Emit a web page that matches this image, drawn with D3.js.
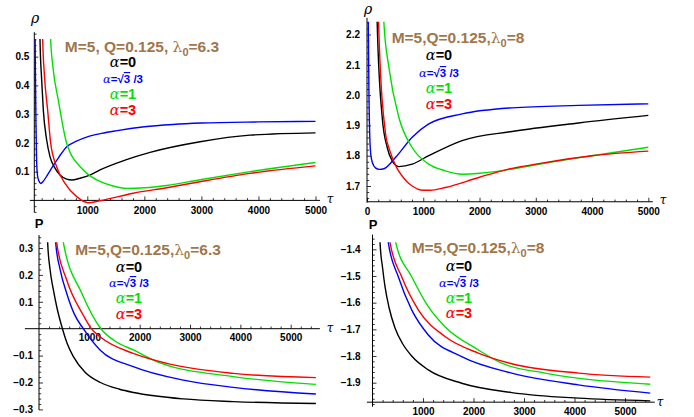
<!DOCTYPE html>
<html>
<head>
<meta charset="utf-8">
<script src="https://cdn.jsdelivr.net/npm/d3@7"></script>
<style>
  body { margin: 0; background: #fff; }
  svg { display: block; font-family: "Liberation Sans", Arial, sans-serif; }
  .tick text { font-weight: bold; font-size: 10px; fill: #000; }
  .tick line { stroke: #000; stroke-width: 0.8; }
</style>
</head>
<body>
<svg id="chart" width="694" height="417"></svg>
<script>
// ---- data: [tau, value] ----
const rho63Black = [[155,0.80],[171,0.56],[200,0.42],[229,0.314],[288,0.21],[346,0.152],[434,0.112],[521,0.088],[638,0.074],[726,0.071],[872,0.077],[1047,0.088],[1223,0.106],[1661,0.14],[2100,0.167],[2977,0.204],[3853,0.227],[5000,0.235]];
const rho63Blue = [[78,0.75],[90,0.45],[100,0.27],[110,0.15],[125,0.09],[150,0.068],[183,0.059],[230,0.067],[300,0.088],[400,0.12],[500,0.15],[640,0.187],[800,0.205],[1000,0.221],[1250,0.233],[1500,0.242],[2000,0.256],[2500,0.264],[3000,0.269],[4000,0.273],[5000,0.275]];
const rho63Green = [[330,0.75],[358,0.56],[400,0.46],[492,0.349],[638,0.199],[930,0.106],[1223,0.066],[1450,0.05],[1690,0.042],[2000,0.044],[2392,0.052],[2975,0.072],[3852,0.1],[5000,0.132]];
const rho63Red = [[195,0.80],[218,0.56],[250,0.43],[305,0.314],[358,0.199],[463,0.117],[609,0.059],[814,0.013],[1018,-0.008],[1223,-0.001],[1806,0.025],[2392,0.044],[2975,0.065],[3852,0.094],[5000,0.12]];

const rho8Black = [[165,2.40],[181,2.24],[270,1.927],[359,1.827],[448,1.783],[566,1.764],[803,1.772],[1098,1.80],[1691,1.85],[2579,1.88],[3762,1.908],[5000,1.933]];
const rho8Blue = [[12,2.5],[22,2.24],[35,2.0],[50,1.86],[70,1.80],[100,1.775],[150,1.76],[220,1.755],[300,1.757],[506,1.794],[803,1.861],[1098,1.905],[1691,1.938],[2579,1.958],[3762,1.966],[5000,1.971]];
const rho8Green = [[280,2.40],[300,2.24],[388,2.093],[566,1.927],[803,1.827],[1098,1.772],[1394,1.75],[1691,1.739],[2000,1.742],[2579,1.756],[3000,1.77],[4000,1.80],[5000,1.828]];
const rho8Red = [[190,2.40],[205,2.24],[330,1.872],[400,1.82],[448,1.794],[530,1.76],[625,1.733],[720,1.712],[803,1.70],[900,1.69],[1000,1.686],[1120,1.686],[1394,1.695],[1986,1.728],[2500,1.755],[3000,1.772],[4000,1.80],[5000,1.815]];

const p63Black = [[160,0.45],[172,0.32],[220,0.22],[285,0.145],[360,0.075],[450,0.01],[560,-0.055],[680,-0.103],[920,-0.163],[1220,-0.2],[1600,-0.225],[1880,-0.237],[2870,-0.261],[3860,-0.271],[5500,-0.278]];
const p63Blue = [[310,0.42],[331,0.321],[420,0.22],[550,0.132],[700,0.055],[880,0],[1212,-0.079],[1873,-0.141],[2867,-0.191],[3860,-0.218],[5500,-0.243]];
const p63Green = [[460,0.42],[483,0.321],[850,0.132],[1230,0],[1500,-0.045],[1873,-0.079],[2404,-0.127],[3860,-0.178],[5500,-0.207]];
const p63Red = [[330,0.42],[351,0.321],[550,0.181],[880,0.05],[1040,0],[1212,-0.030],[1873,-0.092],[2536,-0.129],[3860,-0.166],[5500,-0.182]];

const p8Black = [[135,-1.30],[149,-1.374],[200,-1.47],[248,-1.54],[330,-1.62],[446,-1.695],[600,-1.755],[776,-1.80],[1105,-1.852],[1766,-1.902],[2756,-1.937],[4075,-1.958],[5500,-1.968]];
const p8Blue = [[295,-1.30],[313,-1.374],[511,-1.503],[776,-1.627],[1105,-1.721],[1766,-1.802],[2756,-1.864],[4075,-1.908],[5500,-1.939]];
const p8Green = [[440,-1.30],[459,-1.374],[776,-1.503],[1105,-1.615],[1436,-1.690],[2095,-1.777],[2558,-1.827],[3416,-1.864],[5500,-1.906]];
const p8Red = [[330,-1.30],[347,-1.374],[578,-1.503],[907,-1.627],[1436,-1.727],[2095,-1.789],[2756,-1.829],[4075,-1.864],[5500,-1.879]];

const tauTicks = [1000, 2000, 3000, 4000, 5000];
const tauTicksZero = [0, 1000, 2000, 3000, 4000, 5000];
const rhoTicks63 = [0.1, 0.2, 0.3, 0.4, 0.5];
const rhoTicks8 = [1.7, 1.8, 1.9, 2.0, 2.1, 2.2];
const pTicks63 = [-0.3, -0.2, -0.1, 0.1, 0.2, 0.3];
const pTicks8 = [-1.9, -1.8, -1.7, -1.6, -1.5, -1.4];

const seriesColors = { black: "#000000", blue: "#0000ff", green: "#00e000", red: "#ff0000" };
const titleColor = "#a0764a";

// ---- panel layout ----
const panels = [
  { id: "a", lambda: "6.3", comma: ", ", yName: "ρ", yBold: false,
    xDom: [71, 5000], xRng: [34.3, 315.5], yDom: [0, 0.5], yRng: [200.4, 56.65],
    yAxisAt: 71, xAxisAt: 0, xLine: [-7, 5080], yLine: [-0.042, 0.585], yTop: 0.561, yBot: -0.045,
    xTicks: tauTicks, yTicks: rhoTicks63, minorX: 200, minorY: 0.02, xPad: 7, yPad: 5,
    series: [rho63Blue, rho63Black, rho63Green, rho63Red],
    cx: 142, titleY: 52, rowsY: [67, 83, 99, 115], yLabel: [35, 23], tLabel: [330, 203] },
  { id: "b", lambda: "8", comma: ",", yName: "ρ", yBold: false,
    xDom: [0, 5000], xRng: [367, 648.3], yDom: [1.7, 2.2], yRng: [186, 34.5],
    yAxisAt: 0, xAxisAt: 1.648, xLine: [0, 5080], yLine: [1.645, 2.255], yTop: 2.242, yBot: 1.648,
    xTicks: tauTicksZero, yTicks: rhoTicks8, minorX: 200, minorY: 0.02, xPad: 6, yPad: 7,
    series: [rho8Blue, rho8Black, rho8Green, rho8Red],
    cx: 458, titleY: 43, rowsY: [60, 77, 93, 109], yLabel: [368, 14], tLabel: [663, 204] },
  { id: "c", lambda: "6.3", comma: ",", yName: "P", yBold: true,
    xDom: [0, 5000], xRng: [39, 290.7], yDom: [0, 0.3], yRng: [328.7, 248],
    yAxisAt: 0, xAxisAt: 0, xLine: [-280, 5580], yLine: [-0.302, 0.348], yTop: 0.321, yBot: -0.31,
    xTicks: tauTicks, yTicks: pTicks63, minorX: 200, minorY: 0.02, xPad: 5, yPad: 6,
    series: [p63Black, p63Blue, p63Green, p63Red],
    cx: 148, titleY: 255, rowsY: [272, 287, 303, 319], yLabel: [39, 228], tLabel: [330, 332] },
  { id: "d", lambda: "8", comma: ",", yName: "P", yBold: true,
    xDom: [0, 5000], xRng: [372.5, 625], yDom: [-1.9, -1.4], yRng: [382.7, 249.3],
    yAxisAt: 0, xAxisAt: -1.973, xLine: [-110, 5590], yLine: [-1.99, -1.345], yTop: -1.374, yBot: -1.973,
    xTicks: tauTicks, yTicks: pTicks8, minorX: 200, minorY: 0.02, xPad: 6, yPad: 12,
    series: [p8Black, p8Blue, p8Green, p8Red],
    cx: 478, titleY: 253, rowsY: [271, 287, 303, 318], yLabel: [373, 229], tLabel: [660, 406] }
];

const seriesOrder = { a: ["blue", "black", "green", "red"], b: ["blue", "black", "green", "red"],
                      c: ["black", "blue", "green", "red"], d: ["black", "blue", "green", "red"] };

const svg = d3.select("#chart");
const defs = svg.append("defs");

function drawPanel(p) {
  const x = d3.scaleLinear().domain(p.xDom).range(p.xRng);
  const y = d3.scaleLinear().domain(p.yDom).range(p.yRng);
  const g = svg.append("g");

  defs.append("clipPath").attr("id", "clip-" + p.id)
    .append("rect")
    .attr("x", x(p.yAxisAt))
    .attr("y", y(p.yTop))
    .attr("width", p.xRng[1] + 40 - x(p.yAxisAt))
    .attr("height", y(p.yBot) - y(p.yTop));

  // minor ticks
  const minorX = d3.range(p.minorX, p.xLine[1], p.minorX).filter(v => v > p.yAxisAt + 1 && v % 1000 !== 0);
  g.append("g")
    .attr("transform", `translate(0,${y(p.xAxisAt)})`)
    .call(d3.axisBottom(x).tickValues(minorX).tickSizeInner(-2.2).tickSizeOuter(0).tickFormat(""))
    .call(a => a.select(".domain").remove());

  const yMin = p.yLine[0], yMax = p.yLine[1];
  const minorY = d3.range(Math.ceil(yMin / p.minorY), Math.floor(yMax / p.minorY) + 1)
    .map(k => +(k * p.minorY).toFixed(3))
    .filter(v => !p.yTicks.some(t => Math.abs(t - v) < 1e-6) && Math.abs(v - p.xAxisAt) > 0.005);
  g.append("g")
    .attr("transform", `translate(${x(p.yAxisAt)},0)`)
    .call(d3.axisLeft(y).tickValues(minorY).tickSizeInner(-2.2).tickSizeOuter(0).tickFormat(""))
    .call(a => a.select(".domain").remove());

  // major ticks
  g.append("g")
    .attr("transform", `translate(0,${y(p.xAxisAt)})`)
    .call(d3.axisBottom(x).tickValues(p.xTicks).tickSizeInner(-4).tickSizeOuter(0).tickPadding(p.xPad).tickFormat(d3.format("d")))
    .call(a => a.select(".domain").remove());

  g.append("g")
    .attr("transform", `translate(${x(p.yAxisAt)},0)`)
    .call(d3.axisLeft(y).tickValues(p.yTicks).tickSizeInner(-4).tickSizeOuter(0).tickPadding(p.yPad).tickFormat(d3.format(".1f")))
    .call(a => a.select(".domain").remove());

  // axis lines
  g.append("line")
    .attr("x1", x(p.xLine[0])).attr("x2", x(p.xLine[1]))
    .attr("y1", y(p.xAxisAt)).attr("y2", y(p.xAxisAt))
    .attr("stroke", "#000").attr("stroke-width", 1);
  g.append("line")
    .attr("x1", x(p.yAxisAt)).attr("x2", x(p.yAxisAt))
    .attr("y1", y(p.yLine[0])).attr("y2", y(p.yLine[1]))
    .attr("stroke", "#000").attr("stroke-width", 1);

  // curves
  const line = d3.line().x(d => x(d[0])).y(d => y(d[1])).curve(d3.curveMonotoneX);
  const names = ["black", "blue", "green", "red"];
  const byName = {};
  p.series.forEach((s, i) => { byName[seriesOrder[p.id][i]] = s; });
  names.forEach(n => {
    g.append("path")
      .datum(byName[n])
      .attr("d", line)
      .attr("fill", "none")
      .attr("stroke", seriesColors[n])
      .attr("stroke-width", 1.4)
      .attr("clip-path", `url(#clip-${p.id})`);
  });

  // axis names
  g.append("text")
    .attr("x", p.yLabel[0]).attr("y", p.yLabel[1])
    .attr("text-anchor", "middle")
    .style("font-size", p.yBold ? "13px" : "14px")
    .style("font-weight", p.yBold ? "bold" : "normal")
    .style("font-style", p.yBold ? "normal" : "italic")
    .style("font-family", p.yBold ? null : "'DejaVu Serif', serif")
    .text(p.yName);
  g.append("text")
    .attr("x", p.tLabel[0]).attr("y", p.tLabel[1])
    .attr("text-anchor", "middle")
    .style("font-size", "12px")
    .style("font-style", "italic")
    .style("font-family", "'DejaVu Serif', serif")
    .text("τ");

  // title
  const t = g.append("text")
    .attr("x", p.cx).attr("y", p.titleY)
    .attr("text-anchor", "middle")
    .attr("fill", titleColor)
    .style("font-size", "15.5px")
    .style("font-weight", "bold");
  t.append("tspan").text(`M=5${p.comma}Q=0.125${p.comma}`);
  t.append("tspan").style("font-weight", "normal").style("font-family", "'DejaVu Serif', serif").text("λ");
  t.append("tspan").attr("dy", 4).style("font-size", "11px").text("0");
  t.append("tspan").attr("dy", -4).text("=" + p.lambda);

  // alpha legend rows
  const rows = [
    { c: "black", v: "0", size: 14.5 },
    { c: "blue", v: null, size: 11.5 },
    { c: "green", v: "1", size: 14.5 },
    { c: "red", v: "3", size: 14.5 }
  ];
  rows.forEach((r, i) => {
    const tx = g.append("text")
      .attr("x", p.cx - 19).attr("y", p.rowsY[i])
      .attr("text-anchor", "middle")
      .attr("fill", seriesColors[r.c])
      .style("font-size", r.size + "px");
    tx.append("tspan").style("font-style", "italic").style("font-family", "'DejaVu Serif', serif").text("α");
    if (r.v) {
      tx.append("tspan").style("font-weight", "bold").text("=" + r.v);
    } else {
      tx.append("tspan").style("font-weight", "bold").text("=√");
      tx.append("tspan").style("font-weight", "bold").style("text-decoration", "overline").text("3");
      tx.append("tspan").style("font-weight", "bold").text(" /3");
    }
  });
}

panels.forEach(drawPanel);
</script>
</body>
</html>
